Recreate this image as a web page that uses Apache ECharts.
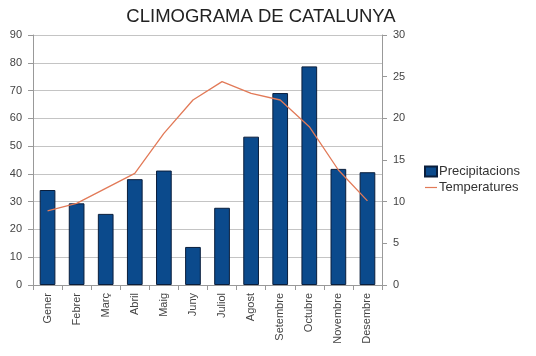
<!DOCTYPE html>
<html><head><meta charset="utf-8">
<script src="https://cdn.jsdelivr.net/npm/echarts@6/dist/echarts.min.js"></script>
<style>html,body{margin:0;padding:0;background:#fff}#c{width:536px;height:356px}</style>
</head><body><div id="c"></div>
<script>
const months = ['Gener','Febrer','Març','Abril','Maig','Juny','Juliol','Agost','Setembre','Octubre','Novembre','Desembre'];
const precipitacions = [34.2, 29.4, 25.6, 38.1, 41.2, 13.7, 27.8, 53.4, 69.1, 78.7, 41.8, 40.6];
const temperatures = [8.9, 9.8, 11.6, 13.4, 18.2, 22.2, 24.4, 23.0, 22.2, 19.0, 13.8, 10.1];
const leftTicks = {min: 0, max: 90, interval: 10};
const rightTicks = {min: 0, max: 30, interval: 5};

const chart = echarts.init(document.getElementById('c'), null, {renderer: 'canvas'});
const axisTxt = {color: '#444', fontFamily: 'Liberation Sans, Arial, sans-serif', fontSize: 11};
chart.setOption({
  animation: false,
  title: {text: 'CLIMOGRAMA DE CATALUNYA', left: 256, top: 2, textAlign: 'center',
    textStyle: {color: '#222', fontWeight: 'normal', fontSize: 18.5, fontFamily: 'Liberation Sans, Arial, sans-serif'}},
  legend: {orient: 'vertical', left: 419, top: 160, itemGap: 3, itemWidth: 12, itemHeight: 10,
    textStyle: {color: '#333', fontSize: 13, padding: [0, 0, 0, -3], fontFamily: 'Liberation Sans, Arial, sans-serif'},
    data: [{name: 'Precipitacions', icon: 'rect'},
           {name: 'Temperatures', icon: 'path://M0,4.4L12,4.4L12,5.6L0,5.6Z', itemStyle: {color: '#e27a58'}}]},
  grid: {left: 33, right: 154, top: 35, bottom: 71, containLabel: false},
  xAxis: {type: 'category', data: months, boundaryGap: true,
    axisLine: {lineStyle: {color: '#999'}},
    axisTick: {show: true, alignWithLabel: false, length: 5, lineStyle: {color: '#999'}},
    axisLabel: Object.assign({rotate: 90, margin: 8, interval: 0}, axisTxt)},
  yAxis: [
    {type: 'value', min: leftTicks.min, max: leftTicks.max, interval: leftTicks.interval, position: 'left',
      axisLine: {show: true, lineStyle: {color: '#999'}},
      axisTick: {show: true, length: 5, lineStyle: {color: '#999'}},
      splitLine: {lineStyle: {color: '#c4c4c4', width: 1}},
      axisLabel: Object.assign({margin: 11}, axisTxt)},
    {type: 'value', min: rightTicks.min, max: rightTicks.max, interval: rightTicks.interval, position: 'right',
      axisLine: {show: true, lineStyle: {color: '#999'}},
      axisTick: {show: true, length: 5, lineStyle: {color: '#999'}},
      splitLine: {show: false},
      axisLabel: Object.assign({margin: 11}, axisTxt)}
  ],
  series: [
    {name: 'Precipitacions', type: 'bar', yAxisIndex: 0, data: precipitacions, barWidth: '54%',
      itemStyle: {color: '#0b4a8c', borderColor: '#0a1e3c', borderWidth: 1}},
    {name: 'Temperatures', type: 'line', yAxisIndex: 1, data: temperatures, symbol: 'none',
      lineStyle: {color: '#e27a58', width: 1.3}, itemStyle: {color: '#e27a58'}}
  ]
});
</script></body></html>
